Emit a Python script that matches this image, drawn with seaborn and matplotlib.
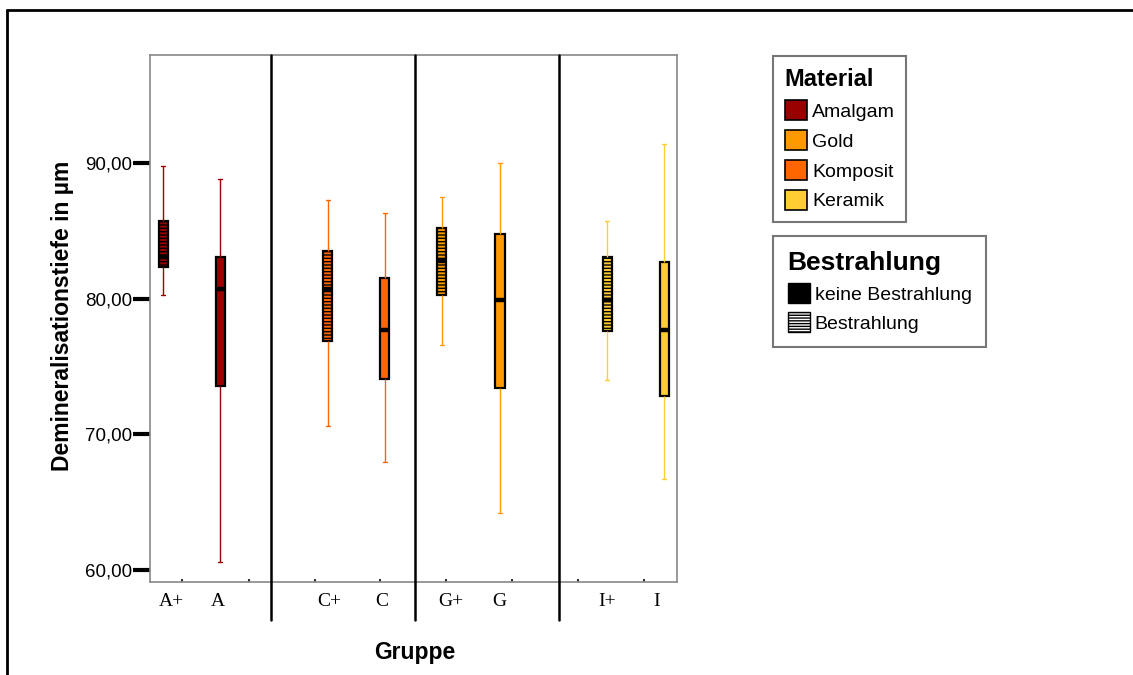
import numpy as np
import pandas as pd
import matplotlib
matplotlib.use("Agg")
import matplotlib.pyplot as plt
import matplotlib.lines as mlines
from matplotlib.patches import Patch
import seaborn as sns

# five-number summaries per group: whisker low, Q1, median, Q3, whisker high
gruppen = ["A+", "A", "C+", "C", "G+", "G", "I+", "I"]
material = ["Amalgam", "Amalgam", "Komposit", "Komposit", "Gold", "Gold", "Keramik", "Keramik"]
bestrahlt = [True, False, True, False, True, False, True, False]
whisk_lo = [80.3, 60.6, 70.6, 68.0, 76.6, 64.2, 74.0, 66.7]
q1 = [82.3, 73.6, 76.9, 74.1, 80.3, 73.4, 77.6, 72.8]
median = [83.1, 80.7, 80.7, 77.7, 82.8, 79.9, 79.9, 77.7]
q3 = [85.7, 83.1, 83.5, 81.5, 85.2, 84.8, 83.1, 82.7]
whisk_hi = [89.8, 88.8, 87.3, 86.3, 87.5, 90.0, 85.7, 91.4]

material_order = ["Amalgam", "Gold", "Komposit", "Keramik"]
material_colors = {"Amalgam": "#990000", "Gold": "#FF9900",
                   "Komposit": "#FF6600", "Keramik": "#FFCC33"}
yticks = [60, 70, 80, 90]
ytick_labels = ["60,00", "70,00", "80,00", "90,00"]

# layout (x in units of ~57 px)
box_pos = [0.23, 1.23, 3.12, 4.12, 5.12, 6.14, 8.02, 9.02]
label_pos = [0.37, 1.19, 3.14, 4.07, 5.28, 6.12, 8.02, 8.89]
minor_pos = [0.56, 1.74, 2.89, 4.03, 5.19, 6.35, 7.51, 8.67]
dividers = [2.12, 4.65, 7.18]
HATCH = "-----"

rows = []
for i, g in enumerate(gruppen):
    for v in (whisk_lo[i], q1[i], median[i], q3[i], whisk_hi[i]):
        rows.append({"Gruppe": g, "pos": box_pos[i], "wert": v})
df = pd.DataFrame(rows)

sns.set_style("white")
plt.rcParams["font.family"] = ["Liberation Sans", "DejaVu Sans"]
plt.rcParams["hatch.linewidth"] = 1.0
plt.rcParams["text.color"] = "black"
plt.rcParams["xtick.color"] = "black"
plt.rcParams["ytick.color"] = "black"
plt.rcParams["legend.labelcolor"] = "black"

fig = plt.figure(figsize=(11.33, 6.75), dpi=100)
ax = fig.add_axes([150 / 1133, 1 - 582 / 675, 527 / 1133, 527 / 675])

for i, g in enumerate(gruppen):
    col = material_colors[material[i]]
    sub = df[df["Gruppe"] == g]
    sns.boxplot(data=sub, x="pos", y="wert", native_scale=True, orient="x",
                ax=ax, color=col, saturation=1, width=0.16, linecolor="black",
                linewidth=1.6, whis=(0, 100), capwidths=0.06,
                whiskerprops={"color": col, "linewidth": 1.0},
                capprops={"color": col, "linewidth": 1.0},
                medianprops={"color": "black", "linewidth": 3.2},
                boxprops={"hatch": HATCH} if bestrahlt[i] else {})

ax.set_xlim(0, 527 / 57)
ax.set_ylim(59.12, 97.96)

for d in dividers:
    ax.axvline(d, ymin=-38 / 527, ymax=1, color="black", lw=1.8, clip_on=False, zorder=5)

for s in ax.spines.values():
    s.set_visible(True)
    s.set_color("#888888")
    s.set_linewidth(1.2)

ax.set_yticks(yticks)
ax.set_yticklabels(ytick_labels, fontsize=13.5)
ax.tick_params(axis="y", direction="out", length=12, width=3, color="black", pad=1, left=True)
ax.set_xticks(label_pos)
ax.set_xticklabels(gruppen, fontsize=14, family=["Liberation Serif", "DejaVu Serif"])
ax.tick_params(axis="x", which="major", length=0, pad=8)
ax.set_xticks(minor_pos, minor=True)
ax.tick_params(axis="x", which="minor", direction="in", length=2, width=1.5,
               color="#333333", bottom=True)

ax.set_xlabel("")
ax.set_ylabel("")
fig.text(63 / 1133, 1 - 316 / 675, "Demineralisationstiefe in µm", rotation=90,
         ha="center", va="center", fontsize=16.5, fontweight="bold")
fig.text(415 / 1133, 1 - 652 / 675, "Gruppe", ha="center", va="center",
         fontsize=16.5, fontweight="bold")

# Legends
mat_handles = [Patch(facecolor=material_colors[m], edgecolor="black", lw=1.2)
               for m in material_order]
leg1 = fig.legend(mat_handles, material_order, title="Material",
                  loc="upper left", bbox_to_anchor=(773 / 1133, 1 - 56 / 675),
                  fontsize=14, title_fontproperties={"weight": "bold", "size": 17},
                  handlelength=1.15, handleheight=1.15, handletextpad=0.25,
                  labelspacing=0.5, borderpad=0.6, fancybox=False,
                  frameon=True, edgecolor="#555555", alignment="left",
                  borderaxespad=0)
leg1.get_frame().set_linewidth(1.5)

bes_handles = [Patch(facecolor="black", edgecolor="black"),
               Patch(facecolor="white", edgecolor="black", hatch="------")]
leg2 = fig.legend(bes_handles, ["keine Bestrahlung", "Bestrahlung"], title="Bestrahlung",
                  loc="upper left", bbox_to_anchor=(773 / 1133, 1 - 236 / 675),
                  fontsize=14, title_fontproperties={"weight": "bold", "size": 19},
                  handlelength=1.15, handleheight=1.15, handletextpad=0.25,
                  labelspacing=0.45, borderpad=0.75, fancybox=False,
                  frameon=True, edgecolor="#555555", alignment="left",
                  borderaxespad=0)
leg2.get_frame().set_linewidth(1.5)

# outer frame (top and left only)
fig.add_artist(mlines.Line2D([7 / 1133, 7 / 1133], [0, 1 - 10 / 675],
                             transform=fig.transFigure, color="black", lw=2))
fig.add_artist(mlines.Line2D([7 / 1133, 1], [1 - 10 / 675, 1 - 10 / 675],
                             transform=fig.transFigure, color="black", lw=2))

fig.savefig("out.png", dpi=100)
